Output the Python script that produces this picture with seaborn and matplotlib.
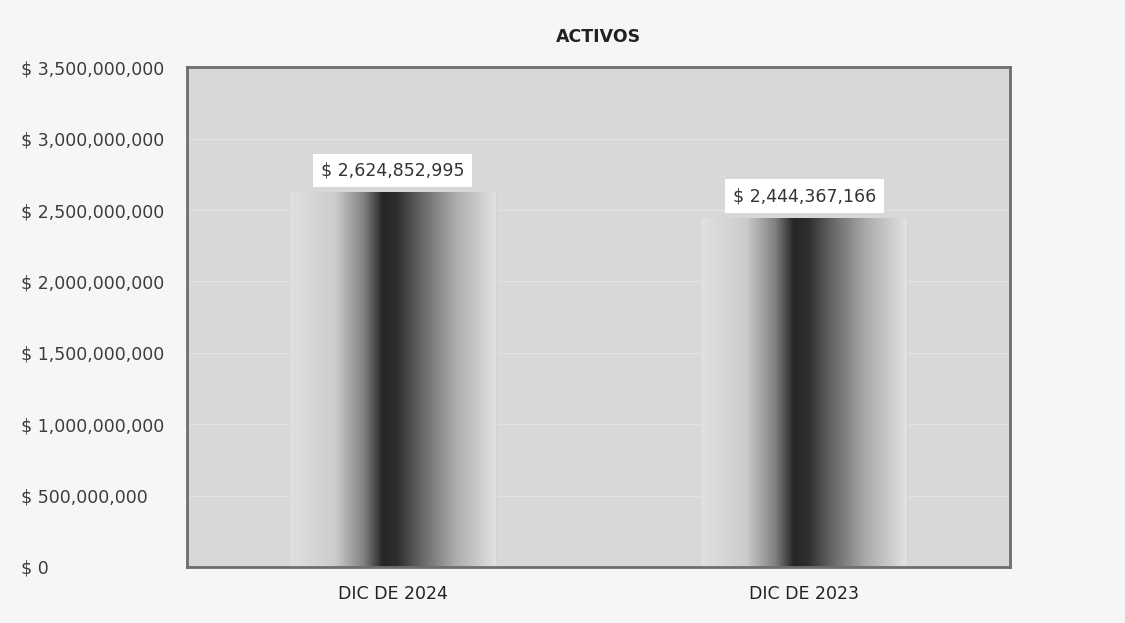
import matplotlib
matplotlib.use("Agg")
import matplotlib.pyplot as plt
import matplotlib.ticker as mticker
from matplotlib.colors import LinearSegmentedColormap
import seaborn as sns
import numpy as np
import pandas as pd

sns.set_theme(style="white")
plt.rcParams["font.family"] = ["DejaVu Sans"]

periodos = ["DIC DE 2024", "DIC DE 2023"]
activos = [2624852995, 2444367166]
y_ticks = [0, 500000000, 1000000000, 1500000000, 2000000000,
           2500000000, 3000000000, 3500000000]

df = pd.DataFrame({"periodo": periodos, "activos": activos})

fig = plt.figure(figsize=(11.25, 6.23), dpi=100, facecolor="#f6f6f6")
ax = fig.add_axes([0.166, 0.09, 0.732, 0.802])
ax.set_facecolor("#d8d8d8")

sns.barplot(data=df, x="periodo", y="activos", width=0.5,
            color="#cfcfcf", edgecolor="#d4d4d4", linewidth=1, ax=ax)

# horizontal shading inside each bar (light edges, dark centre)
shade = LinearSegmentedColormap.from_list("shade", [
    (0.00, "#e0e0e0"), (0.22, "#cccccc"), (0.36, "#808080"),
    (0.45, "#262626"), (0.52, "#2e2e2e"), (0.62, "#5e5e5e"),
    (0.80, "#aaaaaa"), (1.00, "#e2e2e2")])
grad = np.linspace(0, 1, 256).reshape(1, -1)
for bar in ax.patches:
    x0, w, h = bar.get_x(), bar.get_width(), bar.get_height()
    im = ax.imshow(grad, cmap=shade, aspect="auto",
                   extent=[x0, x0 + w, 0, h], zorder=bar.get_zorder() + 0.1)
    im.set_clip_path(bar)

ax.set_xlim(-0.5, 1.5)
ax.set_ylim(0, 3500000000)
ax.set_yticks(y_ticks)
ax.yaxis.set_major_formatter(mticker.FuncFormatter(lambda v, p: f"$ {v:,.0f}"))
ax.grid(axis="y", color="#e2e2e2", linewidth=1)
ax.set_axisbelow(True)

ax.tick_params(axis="y", length=0, pad=119, labelsize=12.5, labelcolor="#3c3c3c")
ax.tick_params(axis="x", length=0, pad=13, labelsize=12.5, labelcolor="#222222")
for lbl in ax.get_yticklabels():
    lbl.set_ha("left")

ax.set_xlabel("")
ax.set_ylabel("")
for s in ax.spines.values():
    s.set_visible(True)
    s.set_color("#6e6e6e")
    s.set_linewidth(2)

for bar, val in zip(ax.patches, activos):
    ax.text(bar.get_x() + bar.get_width() / 2, val + 90000000, f"$ {val:,.0f}",
            ha="center", va="bottom", fontsize=12.5, color="#333333", zorder=5,
            bbox=dict(boxstyle="square,pad=0.45", fc="white", ec="none"))

ax.set_title("ACTIVOS", fontsize=12.5, fontweight="bold", color="#222222", pad=18)

fig.savefig("out.png", dpi=100, facecolor=fig.get_facecolor())
